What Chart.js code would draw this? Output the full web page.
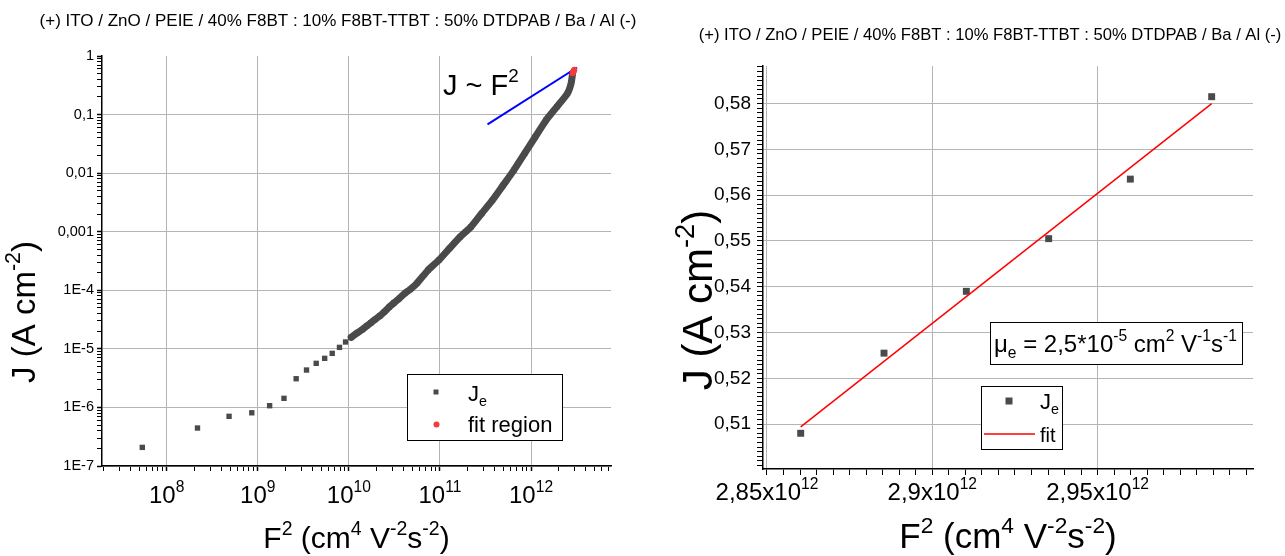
<!DOCTYPE html>
<html lang="en">
<head>
<meta charset="UTF-8">
<title>J vs F² – electron-only device</title>
<script src="https://cdn.jsdelivr.net/npm/chart.js"></script>
<style>
  body { margin: 0; background: #fff; }
  .wrap { position: relative; width: 1285px; height: 556px; }
  #left { position: absolute; left: 0; top: 0; }
  #right { position: absolute; left: 640px; top: 0; }
</style>
</head>
<body>
<div class="wrap">
  <canvas id="left" width="640" height="556"></canvas>
  <canvas id="right" width="645" height="556"></canvas>
</div>
<script>
const deviceTitle = '(+) ITO / ZnO / PEIE / 40% F8BT : 10% F8BT-TTBT : 50% DTDPAB / Ba / Al (-)';

// left panel, log-log: the few low-field points
const sparseF2 = [5.4e7, 2.18e8, 4.84e8, 8.6e8, 1.35e9, 1.94e9, 2.64e9, 3.43e9, 4.38e9, 5.43e9, 6.57e9, 7.89e9, 9.2e9];
const sparseJ = [2.08e-7, 4.45e-7, 7.05e-7, 8.1e-7, 1.07e-6, 1.43e-6, 3.09e-6, 4.35e-6, 5.66e-6, 6.89e-6, 8.38e-6, 1.06e-5, 1.31e-5];
// the dense part of the sweep (points overlap into a band)
const denseF2 = [1.06e10, 1.216e10, 1.393e10, 1.567e10, 1.746e10, 1.945e10, 2.18e10, 2.46e10, 2.79e10, 3.14e10,
  3.59e10, 4.11e10, 4.72e10, 5.65e10, 7.41e10, 9.73e10, 1.274e11, 1.671e11, 2.19e11, 2.87e11,
  3.77e11, 4.95e11, 6.49e11, 8.51e11, 1.114e12, 1.462e12, 1.919e12, 2.51e12, 2.754e12, 2.858e12];
const denseJ = [1.57e-5, 1.84e-5, 2.12e-5, 2.45e-5, 2.79e-5, 3.18e-5, 3.63e-5, 4.30e-5, 5.22e-5, 6.12e-5,
  7.28e-5, 8.85e-5, 1.035e-4, 1.343e-4, 2.21e-4, 3.27e-4, 5.19e-4, 8.18e-4, 1.21e-3, 2.05e-3,
  3.46e-3, 6.24e-3, 0.01125, 0.0217, 0.0417, 0.0802, 0.1355, 0.229, 0.34, 0.5];

// fit window (right panel points, red on the left panel)
const fitF2 = [2.8602e12, 2.8854e12, 2.9103e12, 2.9352e12, 2.9599e12, 2.9845e12];
const fitJ = [0.5080, 0.5255, 0.5390, 0.5505, 0.5635, 0.5815];

// J ~ F^2 guide
const guideF2 = [3.33e11, 3.2e12];
const guideJ = [0.0678, 0.637];

// linear fit
const lineF2 = [2.8602e12, 2.9845e12];
const lineJ = [0.5094, 0.5800];

// ticks
const leftYTicks = [1e-7, 1e-6, 1e-5, 1e-4, 1e-3, 1e-2, 1e-1, 1];
const leftYLabels = ['1E-7', '1E-6', '1E-5', '1E-4', '0,001', '0,01', '0,1', '1'];
const leftXTicks = [1e8, 1e9, 1e10, 1e11, 1e12];
const leftXExp = ['8', '9', '10', '11', '12'];
const rightXTicks = [2.85e12, 2.9e12, 2.95e12];
const rightXLabels = ['2,85x10', '2,9x10', '2,95x10'];
const rightYTicks = [0.51, 0.52, 0.53, 0.54, 0.55, 0.56, 0.57, 0.58];
const rightYLabels = ['0,51', '0,52', '0,53', '0,54', '0,55', '0,56', '0,57', '0,58'];

const FONT = '"Liberation Sans", Arial, sans-serif';
const GREY = '#4a4a4a';
const RED = '#f23c3c';
const GRID = '#b4b4b4';

Chart.defaults.font.family = FONT;
Chart.defaults.color = '#000';

const pts = (xs, ys) => xs.map((x, i) => ({ x, y: ys[i] }));

function logMinors(min, max) {
  const out = [];
  for (let e = Math.floor(Math.log10(min)); e <= Math.ceil(Math.log10(max)); e++) {
    for (let k = 2; k <= 9; k++) {
      const v = k * Math.pow(10, e);
      if (v >= min && v <= max) out.push(v);
    }
  }
  return out;
}

function linMinors(min, max, step, majors) {
  const out = [];
  for (let v = Math.ceil(min / step) * step; v <= max; v += step) {
    if (!majors.some(m => Math.abs(m - v) < step / 10)) out.push(v);
  }
  return out;
}

function tickList(majors, minors) {
  return majors.map(v => ({ value: v, major: true }))
    .concat(minors.map(v => ({ value: v, major: false })))
    .sort((a, b) => a.value - b.value);
}

// text with super/subscripts; parts are strings or [text, '^' | '_']
function rich(ctx, parts, x, y, size, align = 'center', rot = 0) {
  const small = size * 0.65;
  const segs = parts.map(p => {
    const [t, k] = typeof p === 'string' ? [p, ''] : p;
    const fs = k ? small : size;
    ctx.font = fs + 'px ' + FONT;
    return { t, k, fs, w: ctx.measureText(t).width };
  });
  const total = segs.reduce((a, s) => a + s.w, 0);
  ctx.save();
  ctx.translate(x, y);
  if (rot) ctx.rotate(rot);
  let cx = align === 'center' ? -total / 2 : align === 'right' ? -total : 0;
  ctx.textAlign = 'left';
  ctx.textBaseline = 'alphabetic';
  ctx.fillStyle = '#000';
  segs.forEach(s => {
    ctx.font = s.fs + 'px ' + FONT;
    const dy = s.k === '^' ? -size * 0.44 : s.k === '_' ? size * 0.24 : 0;
    ctx.fillText(s.t, cx, dy);
    cx += s.w;
  });
  ctx.restore();
}

const xTitle = ['F', ['2', '^'], ' (cm', ['4', '^'], ' V', ['-2', '^'], 's', ['-2', '^'], ')'];
const yTitle = ['J (A cm', ['-2', '^'], ')'];

const gridOpts = {
  color: c => (c.tick && c.tick.major ? GRID : 'rgba(0,0,0,0)'),
  tickColor: '#000',
  tickLength: 5,
  lineWidth: 1
};

// ---------- left panel ----------
const leftDecor = {
  id: 'leftDecor',
  afterDraw(chart) {
    const { ctx, chartArea: a, scales: { x } } = chart;
    rich(ctx, [deviceTitle], 338, 26, 17);
    leftXTicks.forEach((v, i) => rich(ctx, ['10', [leftXExp[i], '^']], x.getPixelForValue(v), 503, 24));
    rich(ctx, xTitle, (a.left + a.right) / 2, 548, 30);
    rich(ctx, yTitle, 35, 312, 33, 'center', -Math.PI / 2);
    rich(ctx, ['J ~ F', ['2', '^']], 443, 95, 29, 'left');

    // legend
    ctx.save();
    ctx.fillStyle = '#fff';
    ctx.fillRect(407.5, 374.5, 155, 66);
    ctx.strokeStyle = '#000';
    ctx.lineWidth = 1;
    ctx.strokeRect(407.5, 374.5, 155, 66);
    ctx.fillStyle = GREY;
    ctx.fillRect(433.5, 389.5, 5, 5);
    ctx.fillStyle = RED;
    ctx.beginPath();
    ctx.arc(436.5, 424.5, 3, 0, Math.PI * 2);
    ctx.fill();
    ctx.restore();
    rich(ctx, ['J', ['e', '_']], 468, 401, 22, 'left');
    rich(ctx, ['fit region'], 468, 432, 22, 'left');
  }
};

new Chart(document.getElementById('left'), {
  type: 'scatter',
  data: {
    datasets: [
      { label: 'fit region', data: pts(fitF2, fitJ), pointStyle: 'circle', pointRadius: 3,
        pointBackgroundColor: RED, pointBorderWidth: 0 },
      { label: 'J ~ F2', data: pts(guideF2, guideJ), showLine: true, borderColor: '#0000ff',
        borderWidth: 2, pointRadius: 0 },
      { label: 'Je', data: pts(sparseF2, sparseJ), pointStyle: 'rect', pointRadius: 3.8,
        pointBackgroundColor: GREY, pointBorderWidth: 0 },
      { label: 'Je band', data: pts(denseF2, denseJ), showLine: true, borderColor: GREY, borderWidth: 7,
        borderJoinStyle: 'round', borderCapStyle: 'round', tension: 0.2,
        pointStyle: 'rect', pointRadius: 3.8, pointBackgroundColor: GREY, pointBorderWidth: 0 }
    ]
  },
  options: {
    responsive: false,
    animation: false,
    events: [],
    layout: { padding: { left: 0, right: 29, top: 56, bottom: 0 } },
    plugins: { legend: { display: false }, tooltip: { enabled: false } },
    scales: {
      x: {
        type: 'logarithmic',
        min: 1.95e7,
        max: 7.55e12,
        afterBuildTicks: s => { s.ticks = tickList(leftXTicks, logMinors(1.95e7, 7.55e12)); },
        afterFit: s => { s.height = 90; },
        ticks: { display: false, autoSkip: false },
        grid: Object.assign({}, gridOpts, { tickWidth: c => (c.tick && c.tick.major ? 1.5 : 1) }),
        border: { color: '#000', width: 1.5 }
      },
      y: {
        type: 'logarithmic',
        min: 1e-7,
        max: 1,
        afterBuildTicks: s => { s.ticks = tickList(leftYTicks, logMinors(1e-7, 1)); },
        afterFit: s => { s.width = 102; },
        ticks: {
          autoSkip: false,
          padding: 3,
          font: { size: 14.5 },
          callback: v => {
            const i = leftYTicks.indexOf(v);
            return i >= 0 ? leftYLabels[i] : '';
          }
        },
        grid: Object.assign({}, gridOpts, {
          color: c => (c.tick && c.tick.major && c.tick.value < 1 ? GRID : 'rgba(0,0,0,0)'),
          tickWidth: c => (c.tick && c.tick.major ? 1.5 : 1)
        }),
        border: { color: '#000', width: 1.5 }
      }
    }
  },
  plugins: [leftDecor]
});

// ---------- right panel ----------
const rightDecor = {
  id: 'rightDecor',
  afterDraw(chart) {
    const { ctx, chartArea: a, scales: { x } } = chart;
    rich(ctx, [deviceTitle], 350, 40, 16.6);
    rightXTicks.forEach((v, i) => rich(ctx, [rightXLabels[i], ['12', '^']], x.getPixelForValue(v), 500, 24));
    rich(ctx, xTitle, (a.left + a.right) / 2, 548, 35);
    rich(ctx, yTitle, 72, 300, 42, 'center', -Math.PI / 2);

    ctx.save();
    ctx.strokeStyle = '#000';
    ctx.lineWidth = 1;
    // mobility box
    ctx.fillStyle = '#fff';
    ctx.fillRect(350.5, 322.5, 252, 42);
    ctx.strokeRect(350.5, 322.5, 252, 42);
    // legend box
    ctx.fillRect(341.5, 386.5, 81, 63);
    ctx.strokeRect(341.5, 386.5, 81, 63);
    ctx.fillStyle = GREY;
    ctx.fillRect(365.5, 397.5, 7, 7);
    ctx.strokeStyle = '#ff0000';
    ctx.lineWidth = 1.5;
    ctx.beginPath();
    ctx.moveTo(344, 434);
    ctx.lineTo(395, 434);
    ctx.stroke();
    ctx.restore();
    rich(ctx, ['μ', ['e', '_'], ' = 2,5*10', ['-5', '^'], ' cm', ['2', '^'], ' V', ['-1', '^'], 's', ['-1', '^']],
      354, 352, 24, 'left');
    rich(ctx, ['J', ['e', '_']], 400, 409, 22, 'left');
    rich(ctx, ['fit'], 400, 442, 20, 'left');
  }
};

new Chart(document.getElementById('right'), {
  type: 'scatter',
  data: {
    datasets: [
      { label: 'fit', data: pts(lineF2, lineJ), showLine: true, borderColor: '#ff0000', borderWidth: 1.5,
        pointRadius: 0 },
      { label: 'Je', data: pts(fitF2, fitJ), pointStyle: 'rect', pointRadius: 4.9,
        pointBackgroundColor: GREY, pointBorderWidth: 0 }
    ]
  },
  options: {
    responsive: false,
    animation: false,
    events: [],
    layout: { padding: { left: 0, right: 32, top: 66, bottom: 0 } },
    plugins: { legend: { display: false }, tooltip: { enabled: false } },
    scales: {
      x: {
        type: 'linear',
        min: 2.8488e12,
        max: 2.997e12,
        afterBuildTicks: s => { s.ticks = tickList(rightXTicks, linMinors(2.8488e12, 2.997e12, 0.005e12, rightXTicks)); },
        afterFit: s => { s.height = 87; },
        ticks: { display: false, autoSkip: false },
        grid: Object.assign({}, gridOpts, { tickLength: 6 }),
        border: { color: '#000', width: 1.5 }
      },
      y: {
        type: 'linear',
        min: 0.5002,
        max: 0.5882,
        afterBuildTicks: s => { s.ticks = tickList(rightYTicks, linMinors(0.5002, 0.5882, 0.001, rightYTicks)); },
        afterFit: s => { s.width = 123; },
        ticks: {
          autoSkip: false,
          padding: 6,
          font: { size: 19 },
          callback: (v, i, ticks) => {
            if (!ticks[i].major) return '';
            const k = rightYTicks.findIndex(m => Math.abs(m - v) < 1e-6);
            return k >= 0 ? rightYLabels[k] : '';
          }
        },
        grid: Object.assign({}, gridOpts, { tickLength: 6 }),
        border: { color: '#000', width: 1.5 }
      }
    }
  },
  plugins: [rightDecor]
});
</script>
</body>
</html>
